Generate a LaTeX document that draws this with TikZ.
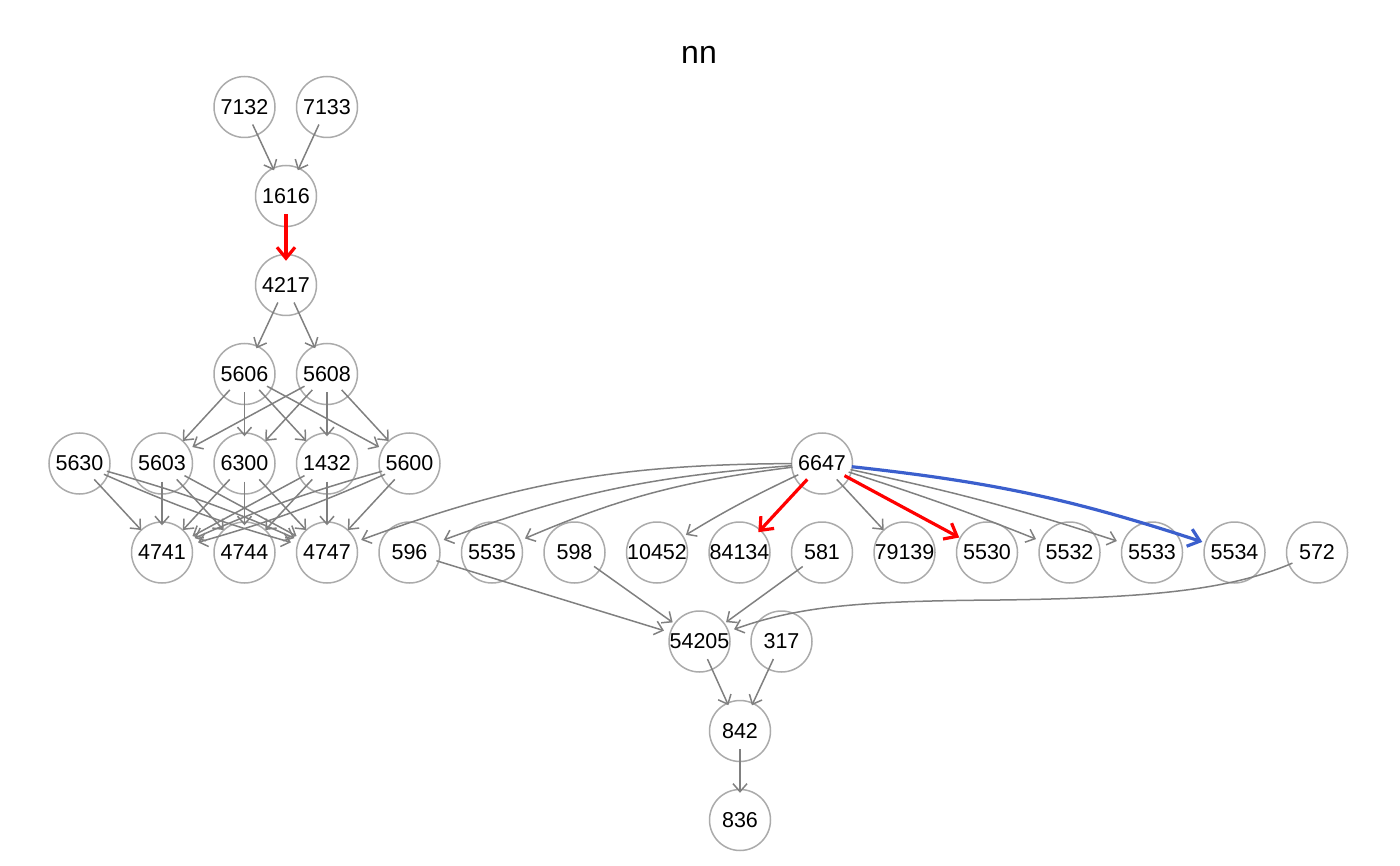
\documentclass[tikz,border=0pt]{standalone}
\usepackage{fontspec}
\setmainfont{Liberation Sans}
\usetikzlibrary{arrows.meta,shapes.geometric}
\definecolor{edgegray}{HTML}{808080}
\definecolor{ringgray}{HTML}{ABABAB}
\definecolor{blueedge}{HTML}{3B5FCD}
\begin{document}
\begin{tikzpicture}[x=1pt,y=1pt,
  vtx/.style={ellipse,minimum width=60pt,minimum height=36pt,inner sep=0pt,
    font=\fontsize{21.5}{24}\selectfont},
  ring/.style={draw=ringgray,line width=1.5pt},
  e/.style={draw=edgegray,line width=1.5pt,
    -{Straight Barb[length=8pt,width=14pt]},shorten >=9pt},
  er/.style={draw=red,line width=3.2pt,
    -{Straight Barb[length=11pt,width=18pt]},shorten >=6pt},
  eb/.style={draw=blueedge,line width=3.2pt,
    -{Straight Barb[length=11pt,width=18pt]},shorten >=6pt},
  ttl/.style={font=\fontsize{32}{36}\selectfont}]
\useasboundingbox (0,0) rectangle (1400,-866);
\node[ttl] (title) at (699,-55) {nn};
\foreach \nm/\x/\y in {
  7132/244.5/107, 7133/327/107, 1616/286/196, 4217/286/285,
  5606/244.5/374, 5608/327/374,
  5630/79.5/463.5, 5603/162/463.5, 6300/244.5/463.5, 1432/327/463.5, 5600/409.5/463.5,
  6647/822/463.5,
  4741/162/552.5, 4744/244.5/552.5, 4747/327/552.5, 596/409.5/552.5, 5535/492/552.5,
  598/574.5/552.5, 10452/657/552.5, 84134/739.5/552.5, 581/822/552.5, 79139/904.5/552.5,
  5530/987/552.5, 5532/1069.5/552.5, 5533/1152/552.5, 5534/1234.5/552.5, 572/1317/552.5,
  54205/699.5/641.5, 317/781.5/641.5, 842/740/731, 836/740/820}
{
  \node[vtx] (n\nm) at (\x,-\y) {\makebox[0pt]{\nm}};
  \draw[ring] (n\nm.center) circle[radius=30.5];
}
% top chain
\draw[e] (n7132) -- (n1616);
\draw[e] (n7133) -- (n1616);
\draw[er] (n1616) -- (n4217);
\draw[e] (n4217) -- (n5606);
\draw[e] (n4217) -- (n5608);
\foreach \s in {5606,5608}{
  \foreach \t in {5603,6300,1432,5600}{
    \draw[e] (n\s) -- (n\t);
  }
}
\draw[e] (n5630) -- (n4741);
\draw[e] (n5630) to[bend left=4] (n4747);
\draw[e] (n5630) to[bend right=4] (n4747);
\foreach \s in {5603,6300,1432}{
  \foreach \t in {4741,4744,4747}{
    \draw[e] (n\s) -- (n\t);
  }
}
\draw[e] (n5600) to[bend left=4] (n4741);
\draw[e] (n5600) to[bend right=4] (n4741);
\draw[e] (n5600) -- (n4747);
% 6647 fan
\draw[e] (n6647) to[bend right=10] (n4747);
\draw[e] (n6647) to[bend right=8] (n596);
\draw[e] (n6647) to[bend right=8] (n5535);
\draw[e] (n6647) to[bend right=3] (n10452);
\draw[er] (n6647) -- (n84134);
\draw[e] (n6647) -- (n79139);
\draw[er] (n6647) -- (n5530);
\draw[e] (n6647) to[bend left=2] (n5532);
\draw[e] (n6647) to[bend left=3] (n5533);
\draw[eb] (n6647) to[bend left=6] (n5534);
% lower part
\draw[e] (n596) -- (n54205);
\draw[e] (n598) -- (n54205);
\draw[e] (n581) -- (n54205);
\draw[e] (n572) .. controls (1230,-590) and (1150,-598) .. (1000,-600)
  .. controls (860,-601) and (800,-606) .. (n54205);
\draw[e] (n54205) -- (n842);
\draw[e] (n317) -- (n842);
\draw[e] (n842) -- (n836);
\end{tikzpicture}
\end{document}
